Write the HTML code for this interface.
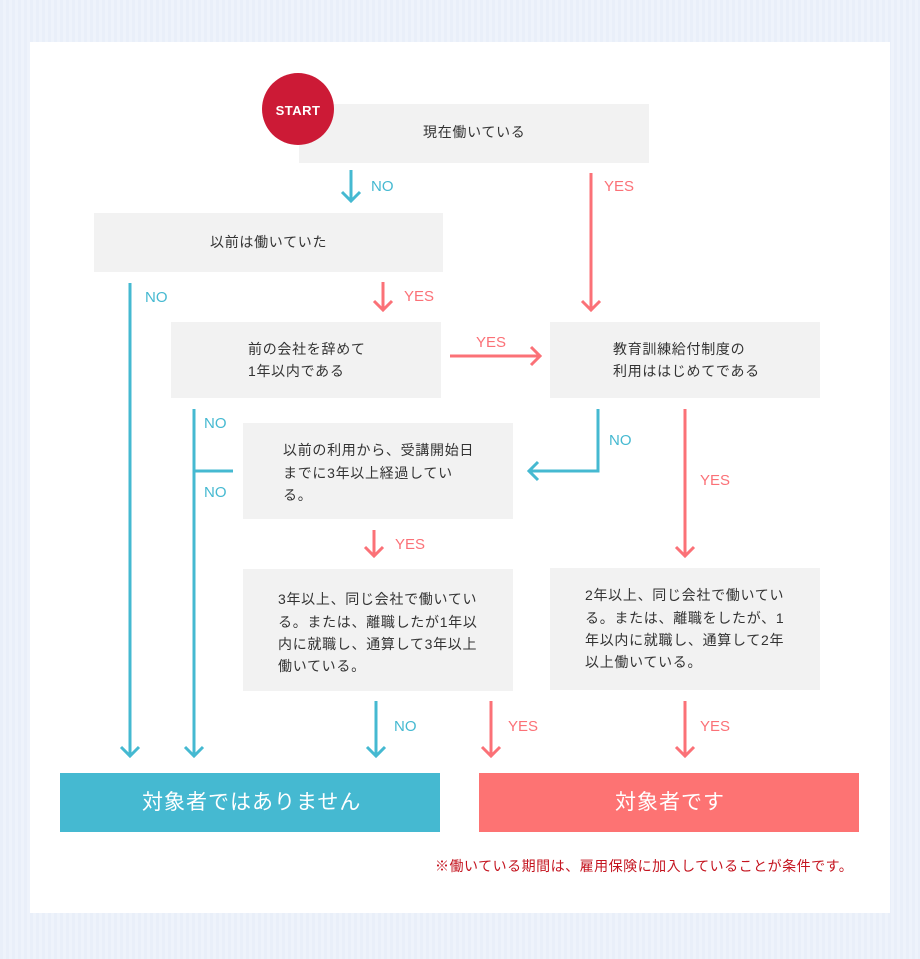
<!DOCTYPE html>
<html><head><meta charset="utf-8"><style>
html,body{margin:0;padding:0;width:920px;height:959px;overflow:hidden;}
body{background:repeating-linear-gradient(90deg,#e9eff9 0 3px,#eef3fb 3px 6px);}
svg{display:block;}
.t{font-family:"Liberation Sans","Noto Sans CJK JP",sans-serif;font-size:14px;fill:#333;letter-spacing:0.7px;}
.l{font-family:"Liberation Sans","Noto Sans CJK JP",sans-serif;font-size:15px;}
.b{fill:#45b9d1}.r{fill:#fb7177}
</style></head><body>
<svg width="920" height="959" xmlns="http://www.w3.org/2000/svg">
<rect x="30" y="42" width="860" height="871" fill="#fff"/>
<g fill="#f2f2f2">
<rect x="299" y="104" width="350" height="59"/>
<rect x="94" y="213" width="349" height="59"/>
<rect x="171" y="322" width="270" height="76"/>
<rect x="550" y="322" width="270" height="76"/>
<rect x="243" y="423" width="270" height="96"/>
<rect x="243" y="569" width="270" height="122"/>
<rect x="550" y="568" width="270" height="122"/>
</g>
<circle cx="298" cy="109" r="36" fill="#cc1a36"/>
<text x="298" y="115" text-anchor="middle" font-family="Liberation Sans,sans-serif" font-weight="bold" font-size="13" letter-spacing="0.5" fill="#fff">START</text>
<g fill="none" stroke-width="3">
<g stroke="#45b9d1">
<path d="M351 170V201M342 192L351 201L360 192"/>
<path d="M130 283V756M121 747L130 756L139 747"/>
<path d="M194 409V756M185 747L194 756L203 747M194 471H233"/>
<path d="M598 409V471H529M538 462L529 471L538 480"/>
<path d="M376 701V756M367 747L376 756L385 747"/>
</g>
<g stroke="#fb7177">
<path d="M591 173V310M582 301L591 310L600 301"/>
<path d="M383 282V310M374 301L383 310L392 301"/>
<path d="M450 356H540M531 347L540 356L531 365"/>
<path d="M685 409V556M676 547L685 556L694 547"/>
<path d="M374 530V556M365 547L374 556L383 547"/>
<path d="M491 701V756M482 747L491 756L500 747"/>
<path d="M685 701V756M676 747L685 756L694 747"/>
</g>
</g>
<g class="l b">
<text x="371" y="191">NO</text><text x="145" y="302">NO</text>
<text x="204" y="428">NO</text><text x="204" y="497">NO</text>
<text x="609" y="445">NO</text><text x="394" y="731">NO</text>
</g>
<g class="l r">
<text x="604" y="191">YES</text><text x="404" y="301">YES</text>
<text x="476" y="347">YES</text><text x="700" y="485">YES</text>
<text x="395" y="549">YES</text><text x="508" y="731">YES</text><text x="700" y="731">YES</text>
</g>
<g class="t">
<text x="423" y="137">現在働いている</text>
<text x="210" y="247">以前は働いていた</text>
<text x="248" y="354">前の会社を辞めて</text><text x="248" y="376">1年以内である</text>
<text x="613" y="354">教育訓練給付制度の</text><text x="613" y="376">利用ははじめてである</text>
<text x="283" y="455">以前の利用から、受講開始日</text><text x="283" y="478">までに3年以上経過してい</text><text x="283" y="500">る。</text>
<text x="278" y="604">3年以上、同じ会社で働いてい</text><text x="278" y="627">る。または、離職したが1年以</text><text x="278" y="649">内に就職し、通算して3年以上</text><text x="278" y="671">働いている。</text>
<text x="585" y="600">2年以上、同じ会社で働いてい</text><text x="585" y="623">る。または、離職をしたが、1</text><text x="585" y="645">年以内に就職し、通算して2年</text><text x="585" y="667">以上働いている。</text>
</g>
<rect x="60" y="773" width="380" height="59" fill="#45b9d1"/>
<rect x="479" y="773" width="380" height="59" fill="#fd7373"/>
<g font-family="Liberation Sans,Noto Sans CJK JP,sans-serif" font-size="21" fill="#fff" letter-spacing="1">
<text x="142" y="809">対象者ではありません</text><text x="615" y="809">対象者です</text>
</g>
<text x="435" y="871" font-family="Liberation Sans,Noto Sans CJK JP,sans-serif" font-size="14" letter-spacing="0.5" fill="#c4141f">※働いている期間は、雇用保険に加入していることが条件です。</text>
</svg>
</body></html>
